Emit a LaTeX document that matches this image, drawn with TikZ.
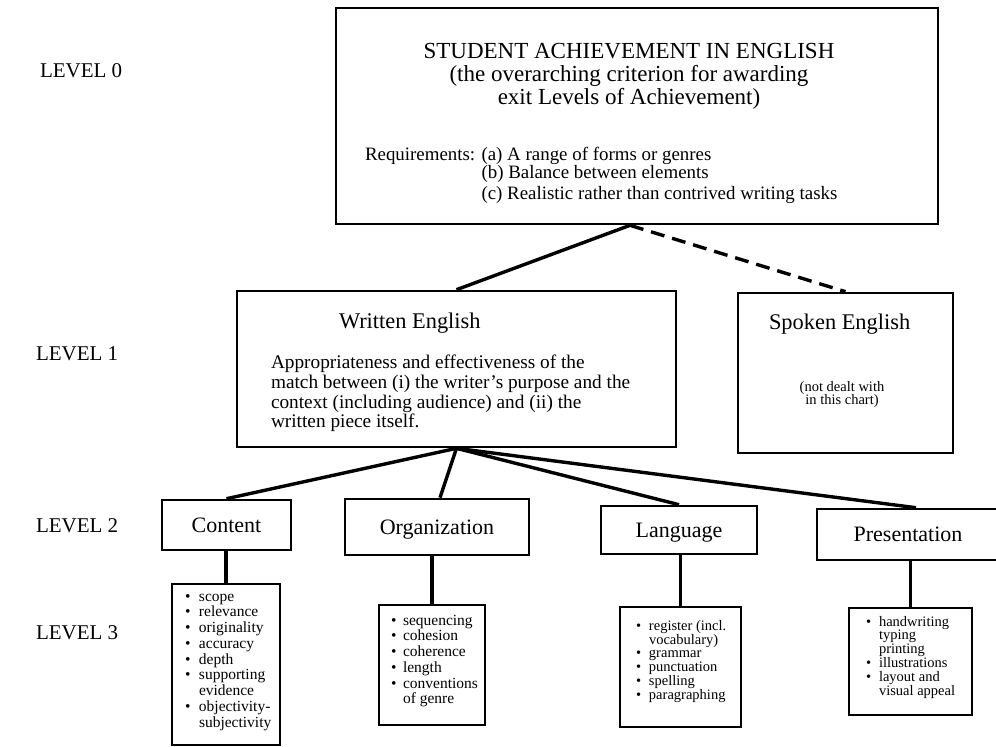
\documentclass[tikz,border=0pt]{standalone}
\usepackage{fontspec}
\setmainfont{Liberation Serif}
\begin{document}
\begin{tikzpicture}[x=1pt,y=-1pt,
  box/.style={draw, line width=2.6pt, inner sep=0pt},
  link/.style={line width=3.4pt},
  dlink/.style={line width=3.4pt, dash pattern=on 14pt off 8pt},
  txt/.style={inner sep=0pt, outer sep=0pt},
  lvl/.style={txt, anchor=base west, font=\fontsize{21}{24}\selectfont},
  ttl/.style={txt, anchor=base, font=\fontsize{23}{26}\selectfont},
  req/.style={txt, anchor=base west, font=\fontsize{18.9}{18.5}\selectfont},
  head/.style={txt, anchor=base west, font=\fontsize{22.4}{26}\selectfont},
  body/.style={txt, anchor=base west, font=\fontsize{19.3}{22}\selectfont},
  small/.style={txt, anchor=base, font=\fontsize{14.5}{16}\selectfont},
  lab/.style={txt, anchor=base, font=\fontsize{22}{26}\selectfont},
  lstA/.style={txt, anchor=base west, font=\fontsize{15.5}{15.75}\selectfont},
  lstB/.style={txt, anchor=base west, font=\fontsize{14.5}{13.6}\selectfont},
]
\fill[white] (0,0) rectangle (996,747);
\useasboundingbox (0,0) rectangle (996,747);

% level labels
\node[lvl] (lv0) at (40,77) {LEVEL 0};
\node[lvl] (lv1) at (36,360) {LEVEL 1};
\node[lvl] (lv2) at (36,532) {LEVEL 2};
\node[lvl] (lv3) at (36,639) {LEVEL 3};

% boxes
\node[box, minimum width=602pt, minimum height=216pt] (top) at (637,116) {};
\node[box, minimum width=439pt, minimum height=156pt] (writ) at (456.5,369) {};
\node[box, minimum width=215pt, minimum height=160pt] (spok) at (845.5,373) {};
\node[box, minimum width=129pt, minimum height=50pt] (cont) at (226.5,525) {};
\node[box, minimum width=184pt, minimum height=56pt] (orgn) at (437,527) {};
\node[box, minimum width=156pt, minimum height=48pt] (lang) at (679,530) {};
\node[box, minimum width=182pt, minimum height=51pt] (pres) at (908,534.5) {};
\node[box, minimum width=108pt, minimum height=161pt] (c3) at (226,664.5) {};
\node[box, minimum width=106pt, minimum height=120pt] (o3) at (432,665) {};
\node[box, minimum width=121pt, minimum height=120pt] (l3) at (680.5,667) {};
\node[box, minimum width=123pt, minimum height=107pt] (p3) at (910.5,661.5) {};

% connectors
\draw[link] ([xshift=-7pt]top.south) -- (writ.north);
\draw[dlink] ([xshift=-7pt]top.south) -- (spok.north);
\draw[link] (writ.south) -- (cont.north);
\draw[link] (writ.south) -- ([xshift=3pt]orgn.north);
\draw[link] (writ.south) -- (lang.north);
\draw[link] (writ.south) -- ([xshift=8pt]pres.north);
\draw[link] (c3.north) -- (c3.north |- cont.south);
\draw[link] (o3.north) -- (o3.north |- orgn.south);
\draw[link] (l3.north) -- (l3.north |- lang.south);
\draw[link] (p3.north) -- (p3.north |- pres.south);

% level 0 text
\node[ttl] (t1) at (629,58) {STUDENT ACHIEVEMENT IN ENGLISH};
\node[ttl] (t2) at (629,81) {(the overarching criterion for awarding};
\node[ttl] (t3) at (629,104) {exit Levels of Achievement)};
\node[req] (rq) at (365,160) {\begin{tabular}[t]{@{}l@{ }l@{}}
Requirements: & (a) A range of forms or genres\\
 & (b) Balance between elements\\[2.5pt]
 & (c) Realistic rather than contrived writing tasks\end{tabular}};

% level 1 text
\node[head] (wh) at (339,328) {Written English};
\node[body] (w1) at (271,368) {Appropriateness and effectiveness of the};
\node[body] (w2) at (271,388) {match between (i) the writer's purpose and the};
\node[body] (w3) at (271,408) {context (including audience) and (ii) the};
\node[body] (w4) at (271,427) {written piece itself.};
\node[head] (sh) at (769,329) {Spoken English};
\node[small] (s1) at (842,391) {(not dealt with};
\node[small] (s2) at (842,404) {in this chart)};

% level 2 labels
\node[lab] (contl) at ([yshift=-7pt]cont.center) {Content};
\node[lab] (orgnl) at ([yshift=-7pt]orgn.center) {Organization};
\node[lab] (langl) at ([yshift=-7pt]lang.center) {Language};
\node[lab] (presl) at ([yshift=-7pt]pres.center) {Presentation};

% level 3 lists
\node[lstA] (c3t) at (185,601) {\begin{tabular}[t]{@{}p{14pt}@{}l@{}}
\textbullet & scope\\ \textbullet & relevance\\ \textbullet & originality\\
\textbullet & accuracy\\ \textbullet & depth\\ \textbullet & supporting\\
 & evidence\\ \textbullet & objectivity-\\ & subjectivity\end{tabular}};
\node[lstA] (o3t) at (391,625) {\begin{tabular}[t]{@{}p{12pt}@{}l@{}}
\textbullet & sequencing\\ \textbullet & cohesion\\ \textbullet & coherence\\
\textbullet & length\\ \textbullet & conventions\\ & of genre\end{tabular}};
\node[lstB] (l3t) at (636,630) {\begin{tabular}[t]{@{}p{13pt}@{}l@{}}
\textbullet & register (incl.\\ & vocabulary)\\ \textbullet & grammar\\
\textbullet & punctuation\\ \textbullet & spelling\\ \textbullet & paragraphing\end{tabular}};
\node[lstB] (p3t) at (866,626) {\begin{tabular}[t]{@{}p{13pt}@{}l@{}}
\textbullet & handwriting\\ & typing\\ & printing\\ \textbullet & illustrations\\
\textbullet & layout and\\ & visual appeal\end{tabular}};
\end{tikzpicture}
\end{document}
